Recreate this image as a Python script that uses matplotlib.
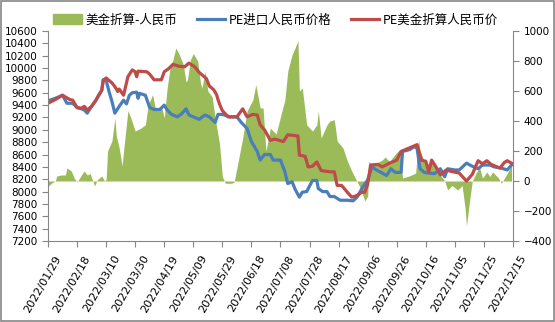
import matplotlib
matplotlib.use("Agg")
import matplotlib.pyplot as plt
import matplotlib.transforms as mtransforms
from matplotlib.patches import Rectangle
import pandas as pd

# ---- data ----
blue_dates = ["2022-01-29","2022-02-03","2022-02-08","2022-02-11","2022-02-15","2022-02-18","2022-02-21","2022-02-23","2022-02-25","2022-02-28",
              "2022-03-03","2022-03-05","2022-03-07","2022-03-08","2022-03-10","2022-03-12","2022-03-14","2022-03-16","2022-03-19","2022-03-22",
              "2022-03-24","2022-03-26","2022-03-28","2022-03-31","2022-04-01","2022-04-02","2022-04-06","2022-04-09","2022-04-12","2022-04-16",
              "2022-04-19","2022-04-21","2022-04-24","2022-04-28","2022-05-01","2022-05-04","2022-05-06","2022-05-10","2022-05-13","2022-05-17",
              "2022-05-20","2022-05-24","2022-05-26","2022-05-29","2022-06-03","2022-06-08","2022-06-11","2022-06-15","2022-06-18","2022-06-22",
              "2022-06-24","2022-06-27","2022-07-01","2022-07-03","2022-07-08","2022-07-11","2022-07-13","2022-07-16","2022-07-18","2022-07-21",
              "2022-07-23","2022-07-26","2022-07-30","2022-08-02","2022-08-03","2022-08-06","2022-08-09","2022-08-11","2022-08-14","2022-08-18",
              "2022-08-23","2022-08-27","2022-08-30","2022-09-02","2022-09-06","2022-09-07","2022-09-09","2022-09-12","2022-09-16","2022-09-19",
              "2022-09-22","2022-09-25","2022-09-29","2022-09-30","2022-10-05","2022-10-08","2022-10-10","2022-10-12","2022-10-15","2022-10-22",
              "2022-10-26","2022-10-29","2022-10-31","2022-11-05","2022-11-08","2022-11-13","2022-11-17","2022-11-21","2022-11-24","2022-11-29",
              "2022-12-02","2022-12-07","2022-12-11","2022-12-14"]
blue_vals = [9470,9510,9560,9430,9430,9360,9340,9320,9270,9380,
             9480,9570,9640,9810,9800,9620,9460,9270,9380,9480,
             9420,9560,9600,9610,9510,9590,9560,9360,9330,9330,
             9400,9320,9250,9210,9260,9340,9240,9200,9170,9240,
             9210,9120,9250,9250,9210,9210,9120,9020,8810,8650,
             8510,8600,8600,8510,8510,8320,8130,8160,8040,7910,
             7990,8000,8180,8180,8050,8000,8000,7920,7920,7860,
             7860,7850,7920,8050,8190,8260,8400,8350,8300,8260,
             8370,8310,8310,8650,8680,8730,8700,8370,8310,8290,
             8370,8240,8370,8350,8350,8460,8410,8370,8430,8430,
             8400,8380,8350,8430]

red_dates = ["2022-01-29","2022-02-03","2022-02-08","2022-02-13","2022-02-15","2022-02-18","2022-02-21","2022-02-23","2022-02-25","2022-02-28",
             "2022-03-03","2022-03-07","2022-03-08","2022-03-10","2022-03-14","2022-03-16","2022-03-18","2022-03-19","2022-03-22","2022-03-25",
             "2022-03-28","2022-03-30","2022-03-31","2022-04-01","2022-04-07","2022-04-09","2022-04-12","2022-04-17","2022-04-19","2022-04-22",
             "2022-04-25","2022-04-29","2022-05-03","2022-05-06","2022-05-10","2022-05-13","2022-05-18","2022-05-20","2022-05-23","2022-05-25",
             "2022-05-26","2022-05-27","2022-05-29","2022-06-02","2022-06-08","2022-06-12","2022-06-15","2022-06-19","2022-06-22","2022-06-24",
             "2022-06-27","2022-07-01","2022-07-04","2022-07-10","2022-07-13","2022-07-20","2022-07-21","2022-07-25","2022-07-27","2022-07-30",
             "2022-08-02","2022-08-05","2022-08-08","2022-08-11","2022-08-14","2022-08-16","2022-08-19","2022-08-23","2022-08-26","2022-08-29",
             "2022-09-02","2022-09-04","2022-09-06","2022-09-08","2022-09-13","2022-09-16","2022-09-21","2022-09-26","2022-09-29","2022-10-04",
             "2022-10-10","2022-10-13","2022-10-16","2022-10-18","2022-10-20","2022-10-23","2022-10-26","2022-10-30","2022-11-02","2022-11-08",
             "2022-11-13","2022-11-17","2022-11-21","2022-11-24","2022-11-27","2022-11-30","2022-12-06","2022-12-09","2022-12-11","2022-12-14"]
red_vals = [9430,9490,9560,9490,9480,9360,9350,9380,9320,9380,
            9480,9640,9800,9840,9760,9700,9620,9660,9560,9860,
            9970,9940,9860,9950,9940,9900,9810,9810,9940,9990,
            10060,10030,10020,10080,10020,9930,9830,9710,9650,9570,
            9490,9420,9310,9210,9210,9340,9210,9250,9240,9080,
            9000,8830,8850,8810,8920,8900,8590,8570,8400,8410,
            8480,8340,8330,8320,8320,8100,8100,7990,7910,7930,
            7990,7990,8120,8430,8440,8400,8460,8510,8650,8700,
            8760,8510,8490,8320,8510,8400,8270,8350,8330,8300,
            8170,8280,8500,8450,8500,8440,8380,8470,8500,8460]

green_dates = ["2022-01-29","2022-02-01","2022-02-03","2022-02-04","2022-02-07","2022-02-10","2022-02-11","2022-02-14","2022-02-16","2022-02-18",
               "2022-02-21","2022-02-23","2022-02-25","2022-02-27","2022-03-02","2022-03-04","2022-03-07","2022-03-09","2022-03-10","2022-03-11",
               "2022-03-14","2022-03-16","2022-03-17","2022-03-19","2022-03-21","2022-03-22","2022-03-25","2022-03-27","2022-03-30","2022-04-03",
               "2022-04-06","2022-04-08","2022-04-11","2022-04-13","2022-04-16","2022-04-17","2022-04-19","2022-04-21","2022-04-23","2022-04-25",
               "2022-04-27","2022-04-29","2022-05-02","2022-05-04","2022-05-05","2022-05-07","2022-05-09","2022-05-12","2022-05-14","2022-05-15",
               "2022-05-17","2022-05-19","2022-05-22","2022-05-24","2022-05-27","2022-05-29","2022-05-31","2022-06-04","2022-06-06","2022-06-08",
               "2022-06-12","2022-06-15","2022-06-19","2022-06-21","2022-06-24","2022-06-26","2022-06-28","2022-07-01","2022-07-05","2022-07-09",
               "2022-07-11","2022-07-13","2022-07-16","2022-07-18","2022-07-20","2022-07-21","2022-07-23","2022-07-26","2022-07-30","2022-08-02",
               "2022-08-03","2022-08-05","2022-08-09","2022-08-11","2022-08-14","2022-08-16","2022-08-20","2022-08-23","2022-08-26","2022-08-29",
               "2022-09-01","2022-09-04","2022-09-06","2022-09-07","2022-09-09","2022-09-12","2022-09-16","2022-09-18","2022-09-21","2022-09-25",
               "2022-09-28","2022-09-30","2022-10-05","2022-10-09","2022-10-11","2022-10-12","2022-10-15","2022-10-18","2022-10-20","2022-10-23",
               "2022-10-26","2022-10-29","2022-10-31","2022-11-03","2022-11-07","2022-11-10","2022-11-12","2022-11-13","2022-11-15","2022-11-17",
               "2022-11-20","2022-11-22","2022-11-24","2022-11-27","2022-11-29","2022-12-01","2022-12-05","2022-12-07","2022-12-11","2022-12-14"]
green_vals = [-35,-10,0,33,40,40,87,67,20,-7,
              40,67,40,50,-33,10,33,0,10,200,
              267,420,300,220,100,200,470,420,333,353,
              375,509,576,476,490,500,420,620,753,809,
              887,850,780,660,676,809,850,800,650,620,
              730,600,560,420,250,30,-15,-15,-10,87,
              287,467,542,642,487,487,200,353,313,467,
              540,733,842,887,935,600,620,375,333,375,
              467,287,375,400,409,267,220,133,67,9,
              -47,-133,-100,133,100,120,140,160,130,180,
              209,20,35,53,276,200,130,110,133,80,
              40,0,-60,-30,-60,-30,-180,-300,-140,0,
              60,90,20,60,30,60,20,-15,50,107]

labels = ["美金折算-人民币", "PE进口人民币价格", "PE美金折算人民币价"]
left_ticks = list(range(7200, 10601, 200))
right_ticks = list(range(-400, 1001, 200))
x_start, x_end = "2022-01-29", "2022-12-15"

# ---- drawing ----
plt.rcParams['font.family'] = ['DejaVu Sans', 'Noto Sans CJK SC']
GREEN, BLUE, RED, GRAY = "#9bbb59", "#4a7ebb", "#be4b48", "#868686"

fig = plt.figure(figsize=(5.55, 3.22), dpi=100)
ax = fig.add_axes([48/555, 1-241/322, (513-48)/555, 210/322])
ax2 = ax.twinx()
ax.set_zorder(ax2.get_zorder() + 1)
ax.patch.set_visible(False)

gd = pd.to_datetime(green_dates)
ax2.fill_between(gd, 0, green_vals, color=GREEN, linewidth=0, label=labels[0])
ln1, = ax.plot(pd.to_datetime(blue_dates), blue_vals, color=BLUE, lw=2.3, label=labels[1], solid_joinstyle='round')
ln2, = ax.plot(pd.to_datetime(red_dates), red_vals, color=RED, lw=2.3, label=labels[2], solid_joinstyle='round')

ax.set_ylim(7200, 10600)
ax.set_yticks(left_ticks)
ax2.set_ylim(-400, 1000)
ax2.set_yticks(right_ticks)
ax.set_xlim(pd.Timestamp(x_start), pd.Timestamp(x_end))
xt = pd.date_range(x_start, x_end, freq="20D")
ax.set_xticks(xt)
ax.set_xticklabels([])
# date labels drawn as text, offset like the reference (rotated 60 degrees)
offset = mtransforms.ScaledTranslation(11/100, -15/100, fig.dpi_scale_trans)
for d in xt:
    ax.text(d, 0, d.strftime("%Y/%m/%d"), transform=ax.get_xaxis_transform() + offset,
            rotation=60, rotation_mode="anchor", ha="right", va="center", fontsize=8, clip_on=False)

for a in (ax, ax2):
    a.spines['top'].set_visible(False)
    for s in ('left', 'right', 'bottom'):
        a.spines[s].set_color(GRAY)
    a.tick_params(colors=GRAY, labelcolor="black", labelsize=7.5, length=4, width=0.8)
ax.spines['right'].set_visible(False)
ax2.spines['left'].set_visible(False)
ax2.spines['bottom'].set_visible(False)

handles = [Rectangle((0, 0), 1, 1, color=GREEN), ln1, ln2]
leg = fig.legend(handles, labels, loc="center", bbox_to_anchor=(0.497, 0.938), ncol=3,
                 frameon=False, prop={'family': ['Noto Sans CJK SC'], 'size': 9},
                 handlelength=2.3, handletextpad=0.3, columnspacing=1.5, handleheight=0.8)

fig.add_artist(Rectangle((0.001, 0.002), 0.997, 0.995, transform=fig.transFigure,
                         fill=False, edgecolor=GRAY, linewidth=1.2))
fig.savefig("out.png", dpi=100)
